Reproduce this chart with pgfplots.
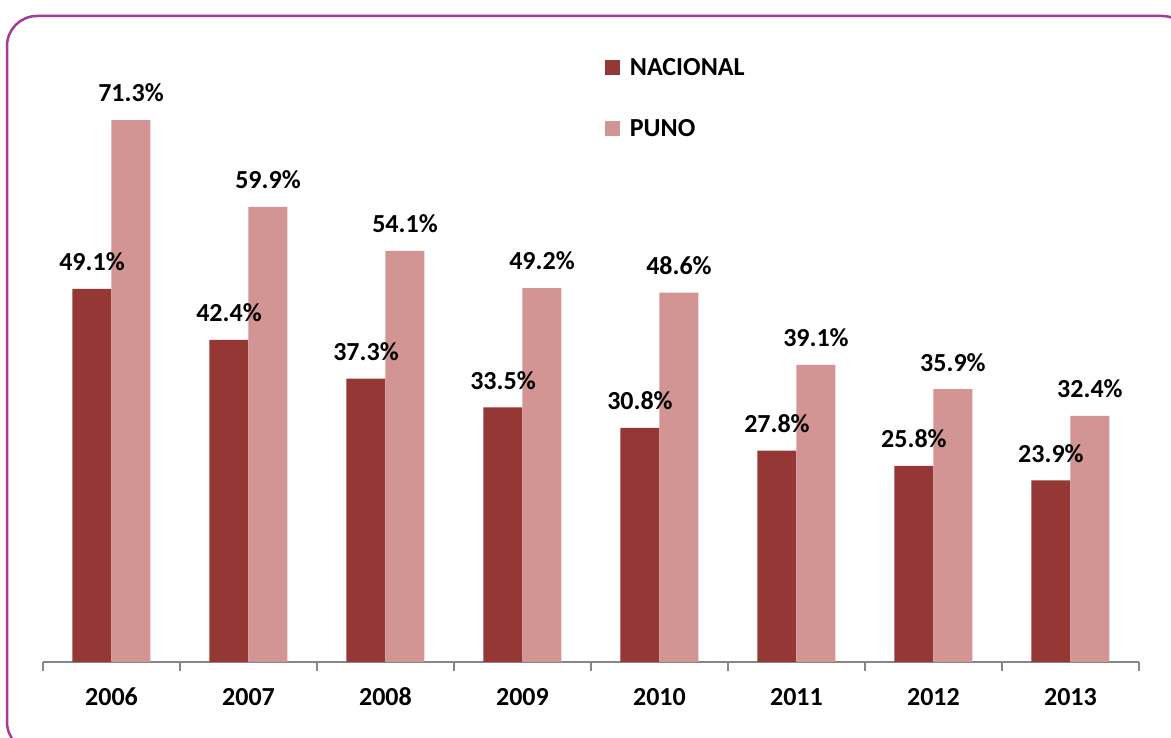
\documentclass[border=0pt]{standalone}
\usepackage{pgfplots}
\pgfplotsset{compat=1.18}
\usepackage{fontspec}
\setmainfont{Carlito}
\definecolor{nac}{HTML}{953735}
\definecolor{pun}{HTML}{D39494}
\definecolor{framec}{HTML}{A8389A}
\definecolor{axgray}{HTML}{868686}
\newcommand{\lblfont}{\bfseries\fontsize{26}{30}\selectfont}
\begin{document}
\begin{tikzpicture}[x=1pt,y=1pt]
\fill[white] (0,0) rectangle (1171,738);
\clip (0,0) rectangle (1171,738);
\draw[framec, line width=2.5pt, rounded corners=30pt] (7,-14) rectangle (1192,722);
\begin{axis}[
  at={(43pt,76pt)}, anchor=south west,
  scale only axis, width=1096pt, height=608pt,
  ybar=0pt, bar width=39pt,
  xmin=-0.5, xmax=7.5, ymin=0, ymax=80, enlargelimits=false,
  clip=false,
  axis x line*=bottom, axis y line=none,
  axis line style={axgray, line width=1.5pt},
  xtick={0,...,7},
  xticklabels={2006,2007,2008,2009,2010,2011,2012,2013},
  major tick length=0pt,
  minor xtick={-0.5,0.5,...,7.5},
  minor tick length=9pt,
  tick align=outside,
  minor tick style={axgray, line width=1.5pt},
  xticklabel style={font=\lblfont, anchor=base, yshift=-44pt},
  /pgf/number format/assume math mode=true,
  nodes near coords={\pgfmathprintnumber[fixed,fixed zerofill,precision=1,assume math mode=true]{\pgfplotspointmeta}\%},
  every node near coord/.append style={font=\lblfont, anchor=center, yshift=27pt, text=black},
  legend style={at={(axis cs:3.6,79.7)}, anchor=north west, draw=none, fill=none,
    font=\lblfont, row sep=38pt, inner sep=0pt},
  legend cell align=left,
  legend image code/.code={\fill[#1] (0pt,-7.5pt) rectangle (15pt,7.5pt); \path (23pt,0pt);},
]
\addplot[fill=nac, draw=none] coordinates {(0,49.1) (1,42.4) (2,37.3) (3,33.5) (4,30.8) (5,27.8) (6,25.8) (7,23.9)};
\addplot[fill=pun, draw=none] coordinates {(0,71.3) (1,59.9) (2,54.1) (3,49.2) (4,48.6) (5,39.1) (6,35.9) (7,32.4)};
\legend{NACIONAL, PUNO}
\end{axis}
\end{tikzpicture}
\end{document}
